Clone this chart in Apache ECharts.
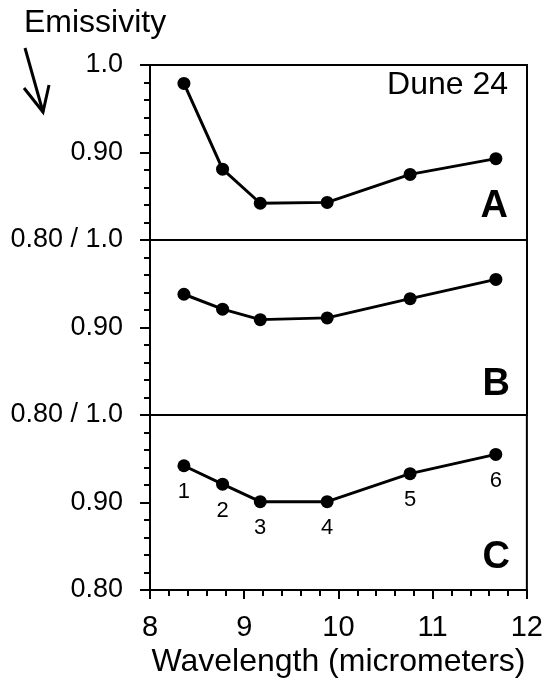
<!DOCTYPE html>
<html>
<head>
<meta charset="utf-8">
<script src="https://cdn.jsdelivr.net/npm/echarts@6/dist/echarts.min.js"></script>
<style>
  html, body { margin: 0; padding: 0; background: #fff; }
  #chart { width: 546px; height: 686px; }
</style>
</head>
<body>
<div id="chart"></div>
<script>
// band centres (micrometers) and emissivity for the three panels
var wavelengths = [8.36, 8.77, 9.17, 9.88, 10.76, 11.67];
var bandLabels = ['1', '2', '3', '4', '5', '6'];
var panelA = [0.979, 0.881, 0.842, 0.843, 0.875, 0.893];
var panelB = [0.938, 0.921, 0.909, 0.911, 0.933, 0.955];
var panelC = [0.942, 0.921, 0.901, 0.901, 0.933, 0.955];
var xTicks = [8, 9, 10, 11, 12];

var FONT = '"Liberation Sans", Arial, sans-serif';
var panelTops = [65, 240, 415];
var panelH = 175;

function pairs(ys) {
  return wavelengths.map(function (x, i) { return [x, ys[i]]; });
}

// label text per panel: top, middle, bottom
var yLabelSets = [
  { '1': '1.0', '0.9': '0.90', '0.8': '0.80 / 1.0' },
  { '1': '', '0.9': '0.90', '0.8': '0.80 / 1.0' },
  { '1': '', '0.9': '0.90', '0.8': '0.80' }
];

var grids = [], xAxes = [], yAxes = [], series = [];
[panelA, panelB, panelC].forEach(function (vals, i) {
  grids.push({
    left: 150, right: 19, top: panelTops[i], height: panelH,
    show: true, borderColor: '#000', borderWidth: 2, backgroundColor: 'transparent'
  });
  var last = i === 2;
  xAxes.push({
    gridIndex: i, type: 'value', min: 8, max: 12, interval: 1,
    axisLine: { show: last, lineStyle: { color: '#000', width: 2 } },
    axisTick: { show: last, length: 9, lineStyle: { color: '#000', width: 2 } },
    minorTick: { show: last, splitNumber: 5, length: 6, lineStyle: { color: '#000', width: 2 } },
    axisLabel: {
      show: last, margin: 23, color: '#000', fontSize: 29, fontFamily: FONT,
      formatter: function (v) { return xTicks.indexOf(v) >= 0 ? String(v) : ''; }
    },
    splitLine: { show: false },
    name: last ? 'Wavelength (micrometers)' : '',
    nameLocation: 'middle', nameGap: 56,
    nameTextStyle: { color: '#000', fontSize: 32, fontFamily: FONT }
  });
  yAxes.push({
    gridIndex: i, type: 'value', min: 0.8, max: 1.0, interval: 0.1,
    axisLine: { show: true, lineStyle: { color: '#000', width: 2 } },
    axisTick: { show: true, length: 10, lineStyle: { color: '#000', width: 2 } },
    minorTick: { show: true, splitNumber: 5, length: 6, lineStyle: { color: '#000', width: 2 } },
    splitLine: { show: false },
    axisLabel: {
      show: true, margin: 27, color: '#000', fontSize: 27, fontFamily: FONT,
      showMinLabel: true, showMaxLabel: true,
      formatter: function (v) {
        var k = String(Math.round(v * 10) / 10);
        return yLabelSets[i][k] || '';
      }
    }
  });
  series.push({
    type: 'line', xAxisIndex: i, yAxisIndex: i,
    data: pairs(vals),
    symbol: 'circle', symbolSize: 13,
    itemStyle: { color: '#000' },
    lineStyle: { color: '#000', width: 3 },
    label: {
      show: last, position: 'bottom', distance: 9,
      color: '#000', fontSize: 22, fontFamily: FONT,
      formatter: function (p) { return bandLabels[p.dataIndex]; }
    },
    animation: false
  });
});

var chart = echarts.init(document.getElementById('chart'));
chart.setOption({
  backgroundColor: '#fff',
  animation: false,
  grid: grids,
  xAxis: xAxes,
  yAxis: yAxes,
  series: series,
  graphic: [
    { type: 'text', left: 24, top: 7,
      style: { text: 'Emissivity', fill: '#000', fontSize: 32, fontFamily: FONT } },
    { type: 'polyline', shape: { points: [[25, 48], [43, 112]] },
      style: { stroke: '#000', lineWidth: 3, fill: null } },
    { type: 'polyline', shape: { points: [[24, 88], [43, 112], [49, 85]] },
      style: { stroke: '#000', lineWidth: 3, fill: null } },
    { type: 'text', right: 38, top: 69,
      style: { text: 'Dune 24', fill: '#000', fontSize: 32, fontFamily: FONT } },
    { type: 'text', right: 38, top: 188,
      style: { text: 'A', fill: '#000', fontSize: 38, fontWeight: 'bold', fontFamily: FONT } },
    { type: 'text', right: 36, top: 366,
      style: { text: 'B', fill: '#000', fontSize: 38, fontWeight: 'bold', fontFamily: FONT } },
    { type: 'text', right: 36, top: 539,
      style: { text: 'C', fill: '#000', fontSize: 38, fontWeight: 'bold', fontFamily: FONT } }
  ]
});
</script>
</body>
</html>
